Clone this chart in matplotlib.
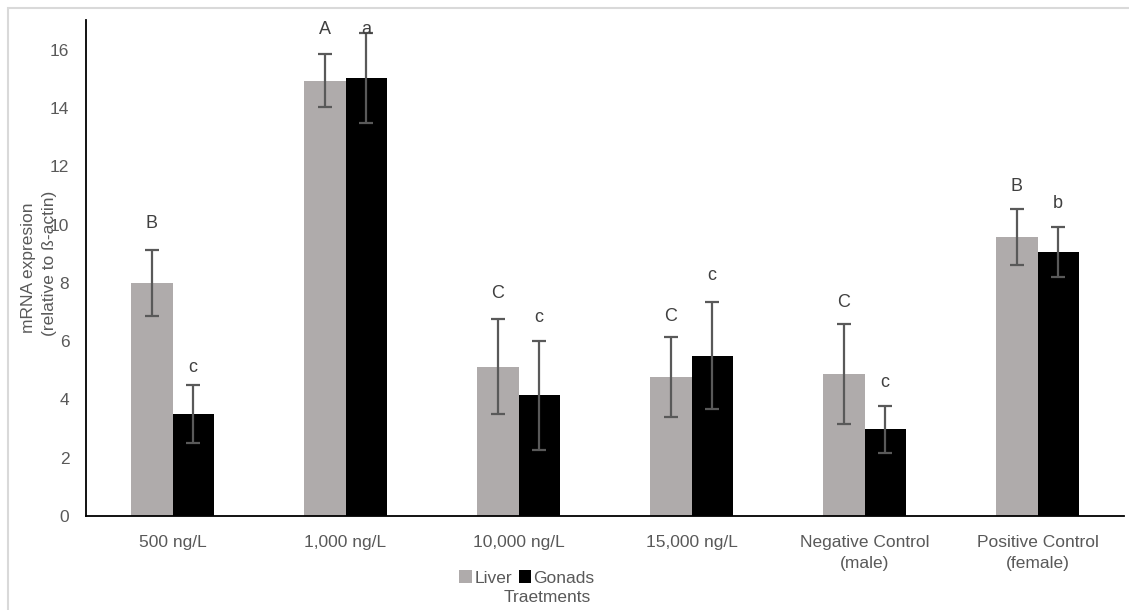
import matplotlib.pyplot as plt
import numpy as np
from matplotlib.patches import Rectangle

plt.rcParams['font.family'] = ['Liberation Sans', 'DejaVu Sans']

treatments = ['500 ng/L', '1,000 ng/L', '10,000 ng/L', '15,000 ng/L',
              'Negative Control\n(male)', 'Positive Control\n(female)']
liver = [8.0, 14.95, 5.13, 4.78, 4.87, 9.58]
liver_err = [1.15, 0.9, 1.63, 1.38, 1.72, 0.97]
gonads = [3.5, 15.05, 4.15, 5.51, 2.97, 9.07]
gonads_err = [1.0, 1.55, 1.87, 1.85, 0.8, 0.86]
liver_letters = ['B', 'A', 'C', 'C', 'C', 'B']
gonad_letters = ['c', 'a', 'c', 'c', 'c', 'b']
liver_letter_y = [10.03, 16.7, 7.63, 6.85, 7.34, 11.3]
gonad_letter_y = [5.09, 16.7, 6.8, 8.25, 4.58, 10.74]

grey = '#AFABAB'
txt = '#595959'

fig = plt.figure(figsize=(11.29, 6.10), dpi=100)
ax = fig.add_axes([86 / 1129, 94 / 610, 1038 / 1129, 496 / 610])

x = np.arange(len(treatments))
w = 0.237
ax.bar(x - w / 2, liver, w, color=grey, label='Liver')
ax.bar(x + w / 2, gonads, w, color='black', label='Gonads')
ekw = dict(fmt='none', ecolor='#595959', elinewidth=1.6, capsize=5, capthick=1.6)
ax.errorbar(x - w / 2, liver, yerr=liver_err, **ekw)
ax.errorbar(x + w / 2, gonads, yerr=gonads_err, **ekw)

for i in range(len(treatments)):
    ax.text(x[i] - w / 2, liver_letter_y[i], liver_letters[i], ha='center', va='center',
            fontsize=13, color='#404040')
    ax.text(x[i] + w / 2, gonad_letter_y[i], gonad_letters[i], ha='center', va='center',
            fontsize=13, color='#404040')

ax.set_xlim(-0.5, 5.5)
ax.set_ylim(0, 17.03)
ax.set_yticks(range(0, 17, 2))
ax.set_xticks(x)
ax.set_xticklabels(treatments, linespacing=1.45)
ax.tick_params(axis='both', length=0, labelsize=12.5, colors=txt)
ax.tick_params(axis='x', pad=14)
ax.tick_params(axis='y', pad=12)
for s in ['top', 'right']:
    ax.spines[s].set_visible(False)
for s in ['left', 'bottom']:
    ax.spines[s].set_color('black')
    ax.spines[s].set_linewidth(1.3)

fig.text(28 / 1129, 1 - 268 / 610, 'mRNA expresion', rotation=90, ha='center', va='center',
         fontsize=12.5, color=txt)
fig.text(50 / 1129, 1 - 263 / 610, '(relative to ß-actin)', rotation=90, ha='center', va='center',
         fontsize=12.5, color=txt)
fig.text(547 / 1129, 1 - 598 / 610, 'Traetments', ha='center', va='center',
         fontsize=12.5, color=txt)

leg = fig.legend(loc='center', bbox_to_anchor=(527 / 1129, 1 - 578 / 610), ncol=2, frameon=False,
                 fontsize=12.5, handlelength=0.7, handleheight=0.7, handletextpad=0.15,
                 columnspacing=0.4, borderpad=0)
for t in leg.get_texts():
    t.set_color(txt)

fig.patches.append(Rectangle((8 / 1129, -0.1), 1.2, 1 - 8 / 610 + 0.1, transform=fig.transFigure,
                             fill=False, edgecolor='#D9D9D9', linewidth=1.5))

fig.savefig('out.png', dpi=100)
